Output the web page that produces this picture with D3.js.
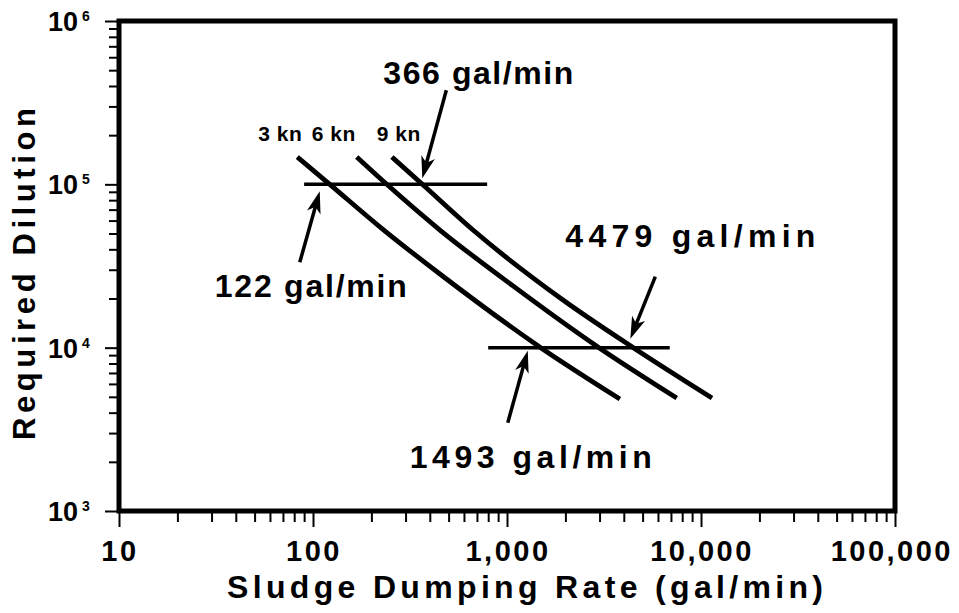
<!DOCTYPE html>
<html>
<head>
<meta charset="utf-8">
<script src="https://cdn.jsdelivr.net/npm/d3@7"></script>
<style>
  html, body { margin: 0; padding: 0; background: #fff; }
  svg { display: block; }
  text { font-family: "Liberation Sans", Arial, Helvetica, sans-serif; font-weight: bold; fill: #000; }
</style>
</head>
<body>
<svg id="chart" width="959" height="613"></svg>
<script>
// Current speed for each dilution curve
const speeds = ["3 kn", "6 kn", "9 kn"];

// Sludge dumping rate (gal/min) and required dilution along each curve
const rate3kn = [83, 122, 225, 451, 1493, 3820];
const dil3kn  = [147000, 100000, 54000, 28250, 10000, 4850];
const rate6kn = [168, 240, 451, 1074, 2980, 7500];
const dil6kn  = [147000, 100000, 52500, 23900, 10000, 4920];
const rate9kn = [255, 366, 668, 1944, 4479, 11400];
const dil9kn  = [147000, 100000, 52500, 19580, 10000, 4920];

// Dilution targets and the rate span of each target line
const targetDilution = [100000, 10000];
const targetRateFrom = [90, 800];
const targetRateTo   = [790, 6900];

// Allowed dumping rates where curves meet the targets
const calloutRate     = [122, 366, 4479, 1493];
const calloutDilution = [100000, 100000, 10000, 10000];

// Axis ticks
const xTicks = [10, 100, 1000, 10000, 100000];
const xTickLabels = ["10", "100", "1,000", "10,000", "100,000"];
const yTicks = [1e3, 1e4, 1e5, 1e6];
const yTickExp = ["3", "4", "5", "6"];

const svg = d3.select("#chart");
const x = d3.scaleLog().domain([10, 1e5]).range([119, 895]);
const y = d3.scaleLog().domain([1e3, 1e6]).range([511, 21]);
const isMajor = v => Math.abs(Math.log10(v) - Math.round(Math.log10(v))) < 1e-9;

// ---- ticks (outward, major longer than minor)
const gx = svg.append("g").attr("transform", "translate(0,511)")
  .call(d3.axisBottom(x).tickValues(x.ticks()).tickFormat("").tickSizeOuter(0));
gx.select(".domain").remove();
gx.selectAll(".tick line").attr("y2", d => isMajor(d) ? 16 : 11)
  .attr("stroke", "#000").attr("stroke-width", 2);

const gy = svg.append("g").attr("transform", "translate(119,0)")
  .call(d3.axisLeft(y).tickValues(y.ticks()).tickFormat("").tickSizeOuter(0));
gy.select(".domain").remove();
gy.selectAll(".tick line").attr("x2", d => isMajor(d) ? -14 : -10)
  .attr("stroke", "#000").attr("stroke-width", 2);

// ---- frame
svg.append("rect")
  .attr("x", x(10)).attr("y", y(1e6))
  .attr("width", x(1e5) - x(10)).attr("height", y(1e3) - y(1e6))
  .attr("fill", "none").attr("stroke", "#000").attr("stroke-width", 5);

// ---- tick labels
svg.append("g").selectAll("text").data(xTicks).join("text")
  .attr("x", d => d === 1e5 ? 953 : x(d) + 1)
  .attr("y", 561)
  .attr("text-anchor", d => d === 1e5 ? "end" : "middle")
  .attr("font-size", 29).attr("letter-spacing", 2.5)
  .text((d, i) => xTickLabels[i]);

const yl = svg.append("g").selectAll("text").data(yTicks).join("text")
  .attr("x", 48).attr("y", d => y(d) + 10).attr("font-size", 27);
yl.append("tspan").text("10");
yl.append("tspan").attr("font-size", 14).attr("dx", 4).attr("dy", -10)
  .text((d, i) => yTickExp[i]);

// ---- axis titles
svg.append("text")
  .attr("x", 227).attr("y", 598).attr("font-size", 32)
  .attr("textLength", 596).attr("lengthAdjust", "spacing")
  .text("Sludge Dumping Rate (gal/min)");

svg.append("text")
  .attr("transform", "translate(35,440) rotate(-90)")
  .attr("font-size", 31)
  .attr("textLength", 332).attr("lengthAdjust", "spacing")
  .text("Required Dilution");

// ---- dilution target lines
svg.append("g").selectAll("line").data(targetDilution).join("line")
  .attr("x1", (d, i) => x(targetRateFrom[i]))
  .attr("x2", (d, i) => x(targetRateTo[i]))
  .attr("y1", d => y(d)).attr("y2", d => y(d))
  .attr("stroke", "#000").attr("stroke-width", 3.5);

// ---- speed curves
const curves = [
  { rate: rate3kn, dil: dil3kn },
  { rate: rate6kn, dil: dil6kn },
  { rate: rate9kn, dil: dil9kn }
];
const line = d3.line().x(d => x(d[0])).y(d => y(d[1])).curve(d3.curveMonotoneX);
svg.append("g").selectAll("path").data(curves).join("path")
  .attr("d", c => line(c.rate.map((r, i) => [r, c.dil[i]])))
  .attr("fill", "none").attr("stroke", "#000").attr("stroke-width", 4.8);

// curve labels, set just above each curve's upper end
const knOffset = [[-39, -16], [-45, -16], [-15, -16]];
svg.append("g").selectAll("text").data(curves).join("text")
  .attr("x", (c, i) => x(c.rate[0]) + knOffset[i][0])
  .attr("y", (c, i) => y(c.dil[0]) + knOffset[i][1])
  .attr("font-size", 21).attr("letter-spacing", 0.5)
  .text((c, i) => speeds[i]);

// ---- callout arrows and labels
// offsets relative to the crossing point: arrow tip, arrow tail, label start; label width
const calloutLayout = [
  { tip: [-10, 7],  tail: [-30, 78],  label: [-115, 113], width: 192 },
  { tip: [0, -6],   tail: [24, -94],  label: [-39, -100], width: 190 },
  { tip: [-3, -9],  tail: [22, -71],  label: [-68, -101], width: 250 },
  { tip: [-13, 3],  tail: [-33, 75],  label: [-131, 120], width: 242 }
];

function arrowHead(tx, ty, fx, fy) {
  const ang = Math.atan2(ty - fy, tx - fx);
  const len = 22, half = 7, notch = 16;
  const ux = Math.cos(ang), uy = Math.sin(ang);
  const px = -uy, py = ux;
  const bx = tx - ux * len, by = ty - uy * len;
  const nx = tx - ux * notch, ny = ty - uy * notch;
  return `M${tx},${ty}L${bx + px * half},${by + py * half}L${nx},${ny}L${bx - px * half},${by - py * half}Z`;
}

const ga = svg.append("g");
calloutRate.forEach((r, i) => {
  const cx = x(r), cy = y(calloutDilution[i]);
  const L = calloutLayout[i];
  const tx = cx + L.tip[0], ty = cy + L.tip[1];
  const fx = cx + L.tail[0], fy = cy + L.tail[1];
  const ang = Math.atan2(ty - fy, tx - fx);
  ga.append("line")
    .attr("x1", fx).attr("y1", fy)
    .attr("x2", tx - Math.cos(ang) * 14).attr("y2", ty - Math.sin(ang) * 14)
    .attr("stroke", "#000").attr("stroke-width", 3.5);
  ga.append("path").attr("d", arrowHead(tx, ty, fx, fy)).attr("fill", "#000");
  ga.append("text")
    .attr("x", cx + L.label[0]).attr("y", cy + L.label[1])
    .attr("font-size", 32)
    .attr("textLength", L.width).attr("lengthAdjust", "spacing")
    .text(`${r} gal/min`);
});
</script>
</body>
</html>
